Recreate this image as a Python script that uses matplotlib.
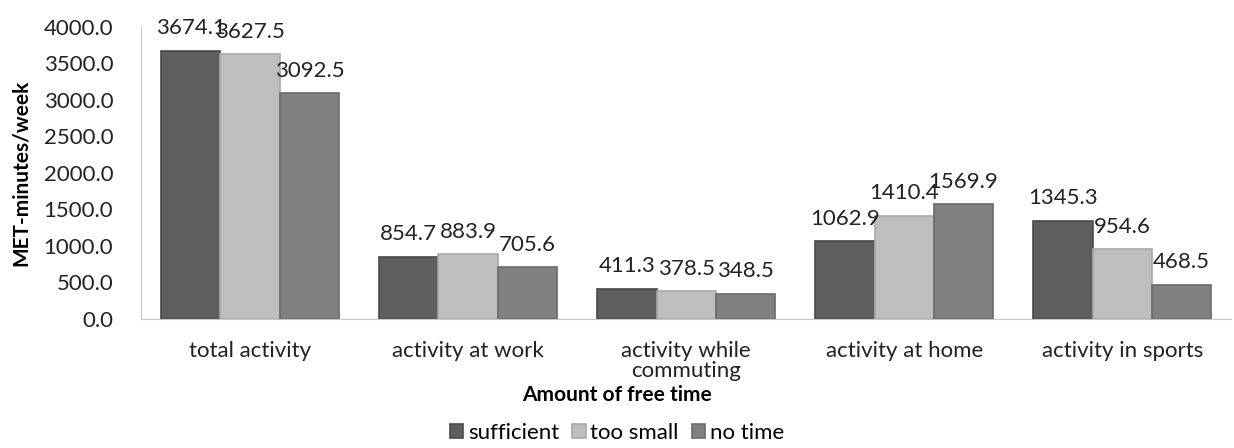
import numpy as np
import matplotlib.pyplot as plt

plt.rcParams['font.family'] = ['Lato', 'DejaVu Sans']

categories = ["total activity", "activity at work", "activity while\ncommuting",
              "activity at home", "activity in sports"]
series = ["sufficient", "too small", "no time"]
sufficient = [3674.1, 854.7, 411.3, 1062.9, 1345.3]
too_small = [3627.5, 883.9, 378.5, 1410.4, 954.6]
no_time = [3092.5, 705.6, 348.5, 1569.9, 468.5]
yticks = [0, 500, 1000, 1500, 2000, 2500, 3000, 3500, 4000]

colors = ["#5e5e5e", "#bebebe", "#808080"]
edges = ["#4a4a4a", "#a8a8a8", "#6a6a6a"]

fig = plt.figure(figsize=(12.34, 4.48), dpi=100)
ax = fig.add_axes([0.1143, 0.288, 0.8835, 0.652])

x = np.arange(len(categories))
w = 0.272
for i, (name, vals) in enumerate(zip(series, [sufficient, too_small, no_time])):
    pos = x + (i - 1) * w
    ax.bar(pos, vals, width=w, color=colors[i], edgecolor=edges[i],
           linewidth=1.2, label=name)
    for p, v in zip(pos, vals):
        ax.annotate(f"{v:.1f}", (p, v), xytext=(0, 9), textcoords="offset points",
                    ha="center", va="bottom", fontsize=16, color="#222222")

ax.set_xlim(-0.5, len(categories) - 0.5)
ax.set_ylim(0, 4000)
ax.set_yticks(yticks)
ax.set_yticklabels([f"{t:.1f}" for t in yticks], fontsize=16, color="#222222")
ax.set_xticks(x)
ax.set_xticklabels(categories, fontsize=16, color="#222222", linespacing=1.0)
ax.tick_params(axis='y', length=0, pad=20)
ax.tick_params(axis='x', length=0, pad=16)
for s in ["top", "right"]:
    ax.spines[s].set_visible(False)
for s in ["left", "bottom"]:
    ax.spines[s].set_color("#c8c8c8")

ax.set_ylabel("MET-minutes/week", fontsize=15, fontweight="bold", labelpad=9)
fig.text(0.5, 0.118, "Amount of free time", ha="center", va="center",
         fontsize=15, fontweight="bold")
fig.legend(loc="center", bbox_to_anchor=(0.5, 0.033), ncol=3, frameon=False,
           fontsize=16, handlelength=0.6, handleheight=0.6, handletextpad=0.2,
           columnspacing=0.6)

plt.savefig("out.png", dpi=100)
plt.close()
